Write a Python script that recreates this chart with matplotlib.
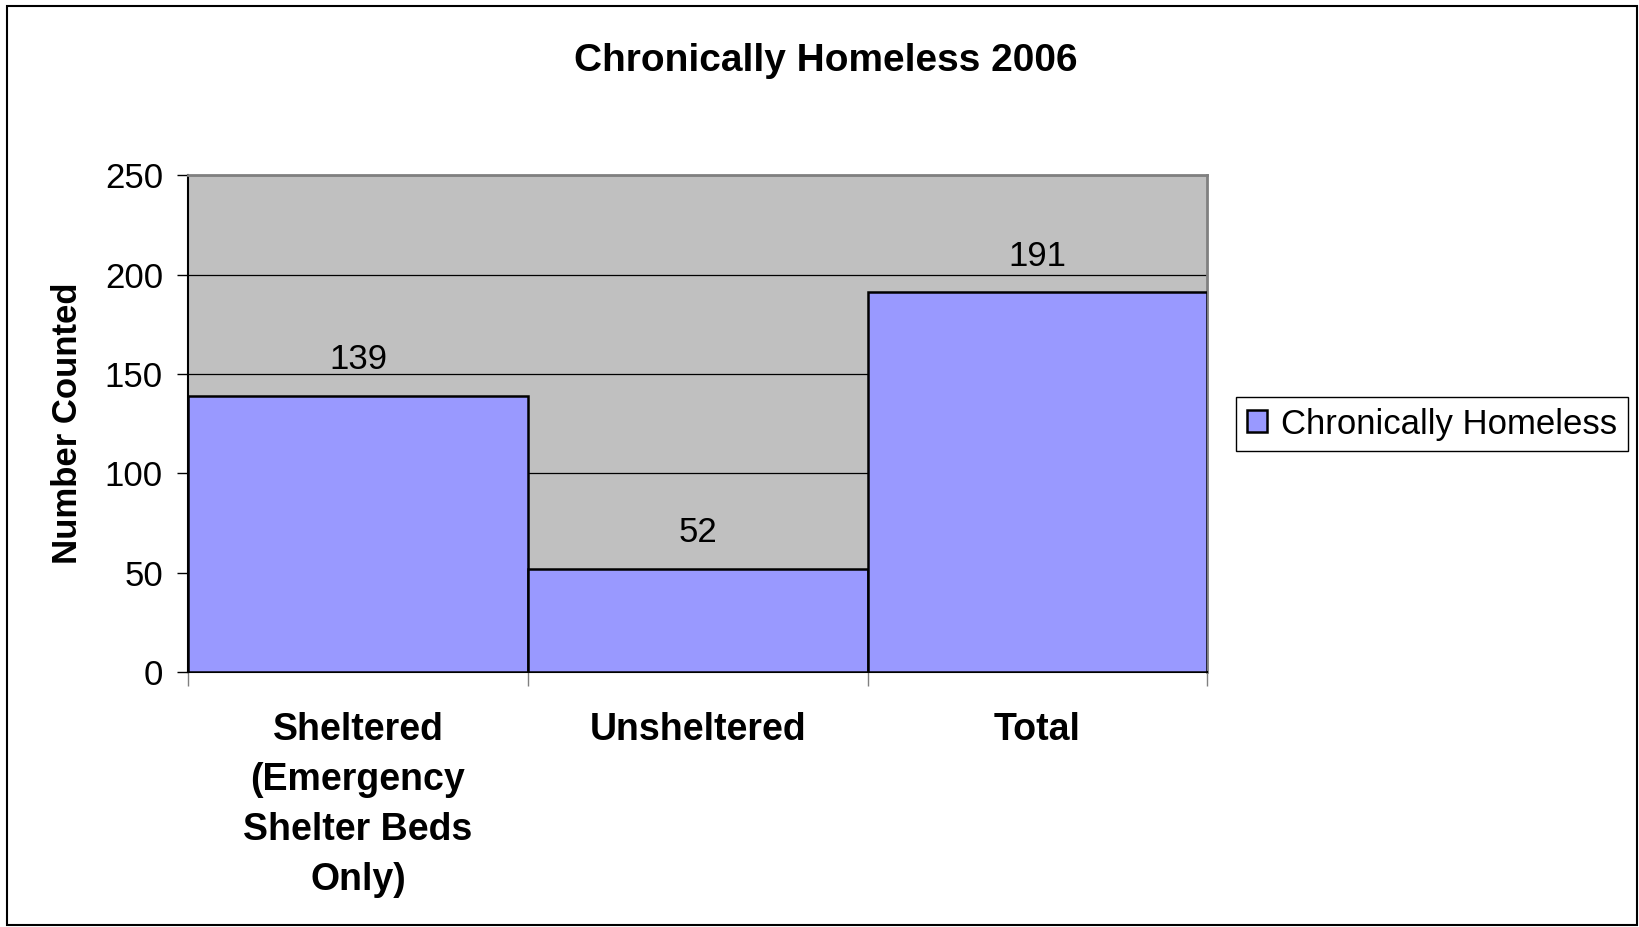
import matplotlib.pyplot as plt
from matplotlib.patches import Rectangle

plt.rcParams["font.family"] = ["Liberation Sans", "DejaVu Sans"]

categories = ["Sheltered\n(Emergency\nShelter Beds\nOnly)", "Unsheltered", "Total"]
counts = [139, 52, 191]
series_name = "Chronically Homeless"
title = "Chronically Homeless 2006"

fig = plt.figure(figsize=(16.39, 9.27), dpi=100)
ax = fig.add_axes([0.1147, 0.275, 0.622, 0.536])

ax.set_facecolor("#C0C0C0")
x = list(range(len(counts)))
bars = ax.bar(x, counts, width=1.0, color="#9999FF", edgecolor="black",
              linewidth=1.8, label=series_name, zorder=3)

for xi, v in zip(x, counts):
    ax.annotate(str(v), (xi, v), xytext=(0, 14), textcoords="offset points",
                ha="center", va="bottom", fontsize=25)

ax.set_xlim(-0.5, len(counts) - 0.5)
ax.set_ylim(0, 250)
ax.set_yticks([0, 50, 100, 150, 200, 250])
ax.yaxis.grid(True, color="black", linewidth=0.9, zorder=1)
ax.tick_params(axis="y", labelsize=25, length=8, direction="out", width=1,
               pad=10)

# boundary ticks on x, labels at centres
ax.set_xticks([i - 0.5 for i in range(len(counts) + 1)])
ax.set_xticklabels([])
ax.tick_params(axis="x", length=10, direction="out", width=1, color="#808080")
ax.set_xticks(x, minor=True)
ax.set_xticklabels(categories, minor=True, fontsize=27, fontweight="bold",
                   linespacing=1.49, va="top")
ax.tick_params(axis="x", which="minor", length=0, pad=29)

for side in ["left", "bottom"]:
    ax.spines[side].set_color("black")
    ax.spines[side].set_linewidth(1.5)
for side in ["top", "right"]:
    ax.spines[side].set_color("#808080")
    ax.spines[side].set_linewidth(2)

ax.set_ylabel("Number Counted", fontsize=25, fontweight="bold", labelpad=15)
fig.text(0.504, 0.934, title, ha="center", va="center", fontsize=28,
         fontweight="bold")

leg = ax.legend(loc="center", bbox_to_anchor=(0.8737, 0.5426),
                bbox_transform=fig.transFigure, fontsize=25, fancybox=False,
                edgecolor="black", framealpha=1, handlelength=0.6,
                handleheight=0.6, handletextpad=0.4, borderpad=0.3)
leg.get_frame().set_linewidth(1)

fig.patches.append(Rectangle((0.0045, 0.002), 0.994, 0.991,
                             transform=fig.transFigure, fill=False,
                             edgecolor="black", linewidth=1.5))

fig.savefig("out.png", dpi=100)
